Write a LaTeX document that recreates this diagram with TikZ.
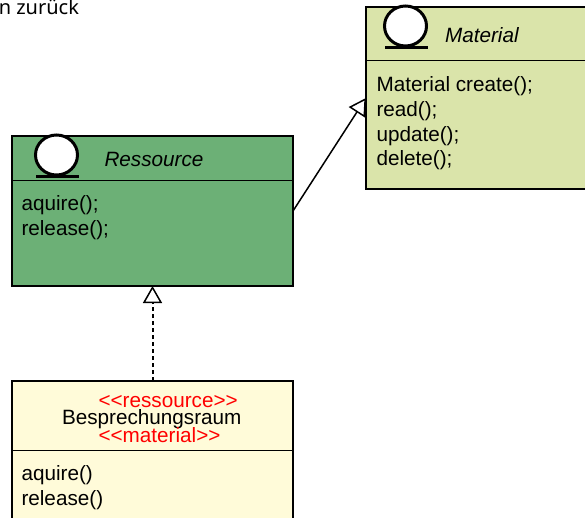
\documentclass[tikz,border=0pt]{standalone}
\usepackage{fontspec}
\setmainfont{Liberation Sans}
\newfontfamily\notefont{Noto Sans}
\usetikzlibrary{arrows.meta}
\definecolor{resgreen}{RGB}{108,176,118}
\definecolor{matgreen}{RGB}{218,228,170}
\definecolor{roomyellow}{RGB}{255,251,217}
\tikzset{
  umlbox/.style={draw=black,line width=1.3pt,inner sep=0pt,outer sep=0pt,anchor=north west},
  divider/.style={draw=black,line width=1.3pt},
  txt/.style={inner sep=0pt,outer sep=0pt,anchor=base west,font=\fontsize{20.7}{24}\selectfont},
  icon/.style={draw=black,fill=white,line width=3pt},
  iconbase/.style={draw=black,line width=3pt},
  hollow/.style={-{Triangle[open,fill=white,length=17pt,width=19pt,line width=1.5pt]},line width=1.5pt},
  stereo/.style={text=red}
}
\begin{document}
\begin{tikzpicture}[x=1pt,y=-1pt]
\useasboundingbox (0,0) rectangle (585,518);
\clip (0,0) rectangle (585,518);
\node[txt,anchor=base east,font=\notefont\fontsize{20}{24}\selectfont] (note) at (79,14.5) {n zurück};
% Ressource
\node[umlbox,fill=resgreen,minimum width=281pt,minimum height=150pt] (res) at (12,136) {};
\draw[divider] (12,180.5) -- (293,180.5);
\draw[icon] (56.5,155) ellipse (21pt and 20pt);
\draw[iconbase] (36,176.5) -- (79,176.5);
\node[txt,font=\itshape\fontsize{20.7}{24}\selectfont] (resname) at (104.5,166.7) {Ressource};
\node[txt] (resa) at (21.5,210.7) {aquire();};
\node[txt] (resb) at (21.5,235.7) {release();};
% Material
\node[umlbox,fill=matgreen,minimum width=240pt,minimum height=182pt] (mat) at (366,7) {};
\draw[divider] (366,60.5) -- (606,60.5);
\draw[icon] (405.5,26) ellipse (21pt and 20pt);
\draw[iconbase] (385,47.5) -- (428,47.5);
\node[txt,font=\itshape\fontsize{20.7}{24}\selectfont] (matname) at (445,42.7) {Material};
\node[txt] (mata) at (376.5,91.7) {Material create();};
\node[txt] (matb) at (376.5,116.2) {read();};
\node[txt] (matc) at (376.5,141.2) {update();};
\node[txt] (matd) at (376.5,165.7) {delete();};
% Besprechungsraum
\node[umlbox,fill=roomyellow,minimum width=281pt,minimum height=160pt] (room) at (12,381) {};
\draw[divider] (12,450.5) -- (293,450.5);
\node[txt,stereo] (st1) at (98.5,407) {<{}<ressource>{}>};
\node[txt] (roomname) at (62,424.7) {Besprechungsraum};
\node[txt,stereo] (st2) at (98.5,442) {<{}<material>{}>};
\node[txt] (rooma) at (21.5,480.7) {aquire()};
\node[txt] (roomb) at (21.5,505.7) {release()};
% connectors
\draw[hollow] (res.east) -- (mat.west);
\draw[hollow,dash pattern=on 4pt off 3pt,line width=2pt] (room.north) -- (res.south);
\end{tikzpicture}
\end{document}
